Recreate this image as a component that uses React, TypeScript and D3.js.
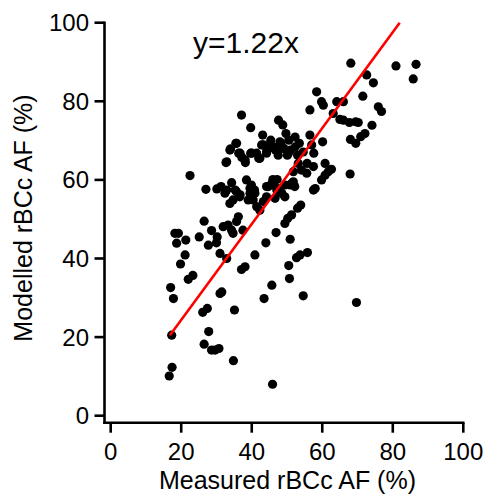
import React, { useEffect, useRef } from 'react';
import * as d3 from 'd3';

// measured vs modelled rBCc AF (%)
const measured = [
  16.6, 17.4, 17.0, 17.8, 17.3, 18.2, 19.2, 18.7, 21.3, 21.1, 19.8, 22.5, 22.0, 23.3, 25.1, 26.5,
  27.0, 28.6, 27.7, 30.2, 30.0, 31.0, 26.1, 27.4, 27.8, 26.5, 28.6, 29.6, 30.7, 31.0, 31.5, 34.8,
  35.1, 45.9, 43.5, 45.7, 50.7, 50.5, 54.6, 52.7, 53.7, 55.8, 50.9, 44.0, 46.9, 69.7, 67.9, 37.1,
  38.1, 40.9, 32.9, 49.4, 50.2, 51.3, 53.0, 53.9, 30.1, 31.3, 32.9, 34.3, 32.7, 34.0, 35.5, 36.3,
  37.2, 38.2, 37.1, 39.7, 39.7, 42.0, 43.1, 42.8, 44.2, 45.4, 46.7, 47.6, 48.8, 49.7, 50.5, 48.2,
  49.1, 51.0, 50.1, 52.3, 53.5, 53.0, 56.5, 57.0, 57.6, 60.1, 56.5, 58.4, 59.8, 60.3, 64.1, 66.0,
  63.1, 65.0, 66.0, 67.7, 69.5, 70.2, 68.0, 69.5, 70.9, 72.1, 74.1, 71.5, 72.6, 74.5, 68.1, 75.9,
  76.8, 80.9, 85.8, 86.6, 57.5, 55.6, 55.7, 57.5, 58.0, 59.8, 60.8, 61.7, 62.6, 60.8, 53.2, 54.1,
  51.8, 51.8, 52.2, 50.9, 49.4, 48.5, 47.6, 46.1, 44.7, 47.2, 46.0, 44.2, 43.3, 42.3, 41.4, 40.4,
  39.5, 38.5, 39.9, 40.8, 36.6, 35.7, 33.8, 34.7, 31.9, 33.3, 34.3, 35.7, 36.2, 37.5, 34.7, 54.6,
  44.2, 41.4, 32.4, 35.3, 36.7, 39.5, 40.9, 39.0, 44.2, 45.7, 47.1, 48.5, 49.4, 51.3, 46.6, 35.7,
  33.8, 36.7, 38.1, 32.9, 40.0, 42.3, 43.3, 44.2, 46.1, 47.5, 49.0, 50.4, 52.3, 48.0,
];
const modelled = [
  10.1, 12.3, 32.6, 29.8, 20.5, 46.4, 46.4, 43.9, 44.7, 40.9, 38.6, 61.1, 34.7, 35.7, 45.5, 49.5,
  57.6, 47.1, 43.4, 45.5, 44.0, 41.3, 26.3, 27.3, 21.4, 18.2, 16.7, 16.7, 17.1, 31.1, 31.5, 14.0,
  26.9, 8.0, 29.8, 33.2, 34.9, 38.2, 30.5, 40.2, 40.9, 41.5, 44.9, 44.0, 46.6, 28.8, 61.5, 37.2,
  37.9, 40.9, 40.0, 48.9, 50.2, 51.1, 52.8, 53.6, 57.7, 58.3, 57.4, 59.3, 64.4, 67.9, 69.3, 66.8,
  65.7, 64.4, 76.5, 73.3, 66.8, 65.5, 71.4, 68.9, 66.8, 70.1, 67.6, 75.2, 74.0, 71.8, 70.1, 69.3,
  68.0, 67.6, 66.3, 70.9, 69.3, 66.3, 71.4, 68.9, 66.8, 69.7, 77.8, 82.4, 79.9, 79.0, 79.9, 79.9,
  76.9, 75.4, 75.2, 74.6, 74.8, 74.6, 70.3, 69.3, 71.0, 71.8, 73.9, 81.3, 86.7, 84.7, 89.7, 78.6,
  77.4, 89.0, 85.7, 89.4, 63.4, 61.7, 64.2, 57.4, 57.8, 60.0, 61.2, 62.1, 62.7, 64.2, 64.2, 62.5,
  62.1, 59.5, 58.3, 58.7, 55.7, 56.6, 57.8, 58.7, 58.3, 60.1, 60.1, 55.7, 54.5, 52.3, 53.2, 54.9,
  56.6, 60.0, 58.7, 57.4, 55.7, 57.0, 54.0, 54.9, 48.1, 48.5, 47.2, 49.4, 50.6, 47.2, 46.4, 67.1,
  68.6, 66.8, 56.6, 57.4, 56.2, 57.9, 56.6, 54.9, 58.3, 59.1, 57.4, 56.6, 58.7, 59.1, 55.3, 69.3,
  67.6, 66.8, 65.1, 64.6, 66.8, 65.5, 68.9, 67.2, 68.4, 66.3, 68.0, 66.8, 68.4, 69.7,
];
const xTicks = [0, 20, 40, 60, 80, 100];
const yTicks = [0, 20, 40, 60, 80, 100];
const slope = 1.22;
const fitRange = [16.8, 100 / 1.22];

const App = () => {
  const svgRef = useRef(null);

  useEffect(() => {
    const width = 487;
    const height = 495;
    const svg = d3.select(svgRef.current);
    svg.selectAll('*').remove();

    const font = "'Liberation Sans', Arial, sans-serif";
    const x = d3.scaleLinear().domain([0, 100]).range([110.7, 463.3]);
    const y = d3.scaleLinear().domain([0, 100]).range([415.7, 22.7]);
    const axisX = 104.5; // y axis sits left of x=0
    const axisY = 422.7; // x axis sits below y=0

    // dots
    svg.append('g')
      .selectAll('circle')
      .data(measured.map((m, i) => [m, modelled[i]]))
      .enter()
      .append('circle')
      .attr('cx', (d) => x(d[0]))
      .attr('cy', (d) => y(d[1]))
      .attr('r', 4.6)
      .attr('fill', '#000');

    // fit line y = 1.22x
    const line = d3.line().x((d) => x(d)).y((d) => y(d * slope));
    svg.append('path')
      .attr('d', line(fitRange))
      .attr('stroke', '#ff0000')
      .attr('stroke-width', 2.6)
      .attr('fill', 'none');

    // y axis
    const gy = svg.append('g');
    gy.append('line')
      .attr('x1', axisX).attr('x2', axisX)
      .attr('y1', y(100) - 1.2).attr('y2', axisY + 1.2)
      .attr('stroke', '#000').attr('stroke-width', 2.6);
    yTicks.forEach((t) => {
      gy.append('line')
        .attr('x1', axisX - 10).attr('x2', axisX)
        .attr('y1', y(t)).attr('y2', y(t))
        .attr('stroke', '#000').attr('stroke-width', 2.6);
      gy.append('text')
        .attr('x', 89)
        .attr('y', y(t))
        .attr('dy', '0.35em')
        .attr('text-anchor', 'end')
        .style('font-family', font)
        .style('font-size', '24px')
        .text(t);
    });

    // x axis
    const gx = svg.append('g');
    gx.append('line')
      .attr('x1', axisX - 1.2).attr('x2', x(100) + 1.2)
      .attr('y1', axisY).attr('y2', axisY)
      .attr('stroke', '#000').attr('stroke-width', 2.6);
    xTicks.forEach((t) => {
      gx.append('line')
        .attr('x1', x(t)).attr('x2', x(t))
        .attr('y1', axisY).attr('y2', axisY + 10)
        .attr('stroke', '#000').attr('stroke-width', 2.6);
      gx.append('text')
        .attr('x', x(t))
        .attr('y', 460)
        .attr('text-anchor', 'middle')
        .style('font-family', font)
        .style('font-size', '24px')
        .text(t);
    });

    // labels
    svg.append('text')
      .attr('x', 287.5)
      .attr('y', 489)
      .attr('text-anchor', 'middle')
      .style('font-family', font)
      .style('font-size', '25px')
      .text('Measured rBCc AF (%)');

    svg.append('text')
      .attr('transform', 'translate(32,218) rotate(-90)')
      .attr('text-anchor', 'middle')
      .style('font-family', font)
      .style('font-size', '25px')
      .text('Modelled rBCc AF (%)');

    svg.append('text')
      .attr('x', 193)
      .attr('y', 53)
      .style('font-family', font)
      .style('font-size', '30px')
      .text('y=1.22x');

    svg.attr('width', width).attr('height', height);
  }, []);

  return (
    <div style={{ position: 'absolute', left: 0, top: 0, width: 487, height: 495, background: '#fff' }}>
      <svg ref={svgRef} width={487} height={495}></svg>
    </div>
  );
};

export default App;
